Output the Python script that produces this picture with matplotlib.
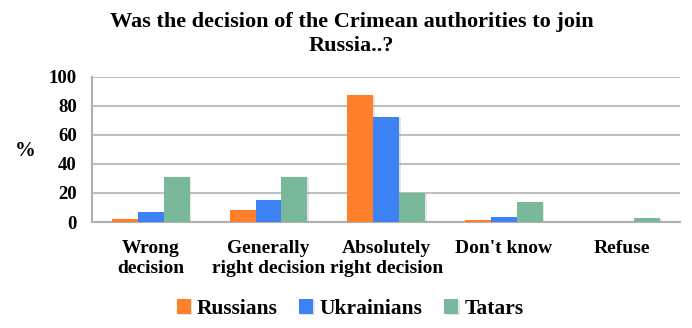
import numpy as np
import matplotlib.pyplot as plt
import matplotlib.patheffects as pe

categories = ["Wrong\ndecision", "Generally\nright decision", "Absolutely\nright decision",
              "Don't know", "Refuse"]
groups = ["Russians", "Ukrainians", "Tatars"]
russians = [2, 8, 87.5, 1.6, 0]
ukrainians = [7, 15.3, 72.4, 3.6, 0.3]
tatars = [31, 31, 20, 14, 2.7]
colors = ["#FF7F2A", "#3C82F5", "#79B89A"]

plt.rcParams['font.family'] = ['Liberation Serif', 'DejaVu Serif']
plt.rcParams['font.weight'] = 'bold'

fig = plt.figure(figsize=(6.92, 3.28), dpi=100, facecolor='white')
ax = fig.add_axes([0.133, 0.323, 0.85, 0.443])

x = np.arange(len(categories))
w = 0.22
shadow = [pe.SimplePatchShadow(offset=(1.2, -0.8), shadow_rgbFace='#999999', alpha=0.25),
          pe.Normal()]
for i, (vals, c, name) in enumerate(zip([russians, ukrainians, tatars], colors, groups)):
    ax.bar(x + (i - 1) * w, vals, w, color=c, label=name, zorder=3, path_effects=shadow)

ax.set_xlim(-0.5, len(categories) - 0.5)
ax.set_ylim(0, 100)
ax.set_yticks(range(0, 101, 20))
ax.yaxis.grid(True, color='#C0C0C0', linewidth=1.5, zorder=0)
ax.set_xticks(x)
ax.set_xticklabels(categories, fontsize=14, fontweight='bold', linespacing=1.2)
ax.tick_params(axis='y', labelsize=13.5, length=0, pad=11)
ax.tick_params(axis='x', length=0, pad=13)
for s in ['top', 'right']:
    ax.spines[s].set_visible(False)
for s in ['left', 'bottom']:
    ax.spines[s].set_color('#B0B0B0')
    ax.spines[s].set_linewidth(1.5)

fig.text(0.036, 0.54, "%", fontsize=15, fontweight='bold', ha='center', va='center')
fig.text(0.508, 0.896, "Was the decision of the Crimean authorities to join\nRussia..?",
         fontsize=16, fontweight='bold', ha='center', va='center', linespacing=1.22)

fig.legend(loc='center', bbox_to_anchor=(0.506, 0.058), ncol=3, frameon=False,
           prop={'size': 15.5, 'weight': 'bold'}, handlelength=0.65, handleheight=0.65,
           handletextpad=0.3, columnspacing=1.0)

fig.savefig("out.png", dpi=100)
